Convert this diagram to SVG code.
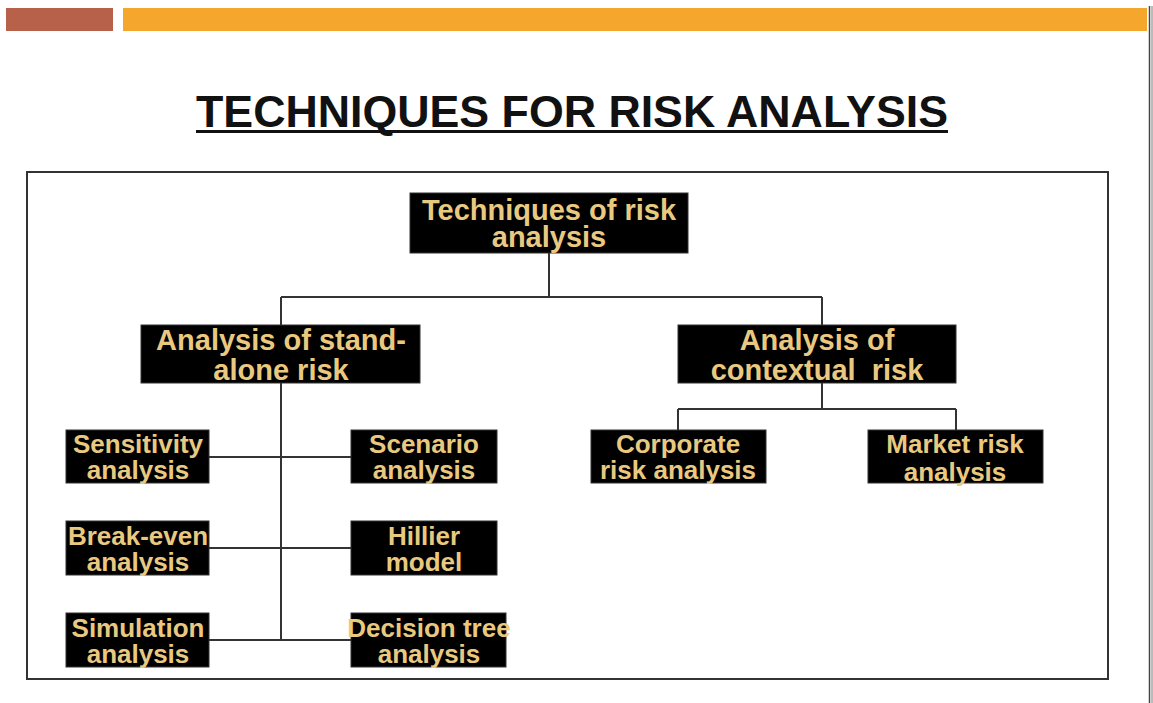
<svg xmlns="http://www.w3.org/2000/svg" width="1153" height="703" viewBox="0 0 1153 703">
<style>
.box{fill:#000;stroke:#333;stroke-width:1}
.t{font-family:"Liberation Sans",Arial,sans-serif;font-weight:bold;fill:#e9c980;text-anchor:middle}
.big{font-size:29px}
.sm{font-size:26px}
.con{fill:none;stroke:#333;stroke-width:2}
</style>
<rect width="1153" height="703" fill="#fff"/>
<rect x="6" y="8" width="107" height="23" fill="#b7604a"/>
<rect x="123" y="8" width="1024" height="23" fill="#f5a62c"/>
<line x1="1149.5" y1="6" x2="1149.5" y2="703" stroke="#444" stroke-width="1.5"/>
<line x1="1152" y1="6" x2="1152" y2="703" stroke="#777" stroke-width="1"/>
<text x="572" y="127" font-family="Liberation Sans,Arial,sans-serif" font-weight="bold" font-size="44" fill="#111" text-anchor="middle" textLength="752" lengthAdjust="spacingAndGlyphs">TECHNIQUES FOR RISK ANALYSIS</text>
<line x1="196" y1="131.5" x2="948" y2="131.5" stroke="#111" stroke-width="3"/>
<rect x="27" y="172" width="1081" height="507" fill="none" stroke="#333" stroke-width="2"/>
<g id="connectors">
<path class="con" d="M549 253V297M281 297H822M281 297V325M822 297V325"/>
<path class="con" d="M281 383V640M209 457H351M209 548H351M209 640H351"/>
<path class="con" d="M822 383V409M678 409H956M678 409V430M956 409V430"/>
</g>
<g id="n-root"><rect class="box" x="410" y="193" width="278" height="60"/><text class="t big"><tspan x="549" y="220">Techniques of risk</tspan><tspan x="549" y="247">analysis</tspan></text></g>
<g id="n-standalone"><rect class="box" x="141" y="325" width="279" height="58"/><text class="t big"><tspan x="281" y="350">Analysis of stand-</tspan><tspan x="281" y="380">alone risk</tspan></text></g>
<g id="n-contextual"><rect class="box" x="678" y="325" width="278" height="58"/><text class="t big" xml:space="preserve"><tspan x="817" y="350">Analysis of</tspan><tspan x="817" y="380">contextual  risk</tspan></text></g>
<g id="n-sensitivity"><rect class="box" x="66" y="430" width="143" height="53"/><text class="t sm"><tspan x="138" y="453">Sensitivity</tspan><tspan x="138" y="479">analysis</tspan></text></g>
<g id="n-scenario"><rect class="box" x="351" y="430" width="146" height="53"/><text class="t sm"><tspan x="424" y="453">Scenario</tspan><tspan x="424" y="479">analysis</tspan></text></g>
<g id="n-breakeven"><rect class="box" x="66" y="521" width="143" height="54"/><text class="t sm"><tspan x="138" y="545">Break-even</tspan><tspan x="138" y="571">analysis</tspan></text></g>
<g id="n-hillier"><rect class="box" x="351" y="521" width="146" height="54"/><text class="t sm"><tspan x="424" y="545">Hillier</tspan><tspan x="424" y="571">model</tspan></text></g>
<g id="n-simulation"><rect class="box" x="66" y="613" width="143" height="54"/><text class="t sm"><tspan x="138" y="637">Simulation</tspan><tspan x="138" y="663">analysis</tspan></text></g>
<g id="n-decision"><rect class="box" x="351" y="613" width="155" height="54"/><text class="t sm"><tspan x="429" y="637">Decision tree</tspan><tspan x="429" y="663">analysis</tspan></text></g>
<g id="n-corporate"><rect class="box" x="591" y="430" width="175" height="53"/><text class="t sm"><tspan x="678" y="453">Corporate</tspan><tspan x="678" y="479">risk analysis</tspan></text></g>
<g id="n-market"><rect class="box" x="868" y="430" width="175" height="53"/><text class="t sm"><tspan x="955" y="453">Market risk</tspan><tspan x="955" y="481">analysis</tspan></text></g>
</svg>
